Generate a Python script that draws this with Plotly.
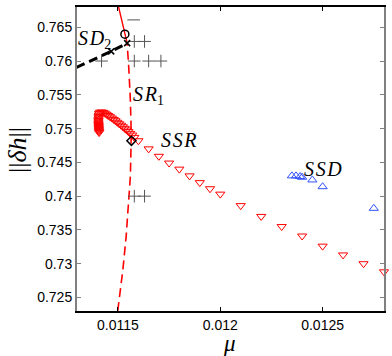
import plotly.graph_objects as go

# ---- data ----
# SSR branch: dense "hook" of solutions then spaced continuation
hook_mu = [0.011408, 0.011408, 0.011407, 0.011407, 0.011407, 0.011406, 0.011406, 0.011406,
           0.011405, 0.011405, 0.011405, 0.011405, 0.011405, 0.011406, 0.011406, 0.011407,
           0.011408, 0.011413, 0.011420, 0.011428, 0.011436, 0.011444, 0.011452,
           0.011461, 0.011470, 0.011479, 0.011488, 0.011497, 0.011506, 0.011515, 0.011524,
           0.011533, 0.011542, 0.011551, 0.011560, 0.011570, 0.011580]
hook_dh = [0.74940, 0.74955, 0.74970, 0.74985, 0.75000, 0.75015, 0.75030, 0.75045,
           0.75060, 0.75080, 0.75100, 0.75120, 0.75140, 0.75160, 0.75180, 0.75200,
           0.75226, 0.75242, 0.75246, 0.75240, 0.75228, 0.75212, 0.75194,
           0.75176, 0.75156, 0.75136, 0.75116, 0.75094, 0.75072, 0.75050, 0.75027,
           0.75004, 0.74980, 0.74956, 0.74930, 0.74904, 0.74870]

ssr_mu = [0.0116, 0.01165, 0.0117, 0.01175, 0.0118, 0.01185, 0.0119, 0.01195, 0.0120,
          0.0121, 0.0122, 0.0123, 0.0124, 0.0125, 0.0126, 0.0127, 0.0128]
ssr_dh = [0.7482, 0.7470, 0.7459, 0.7449, 0.7440, 0.7430, 0.7420, 0.7411, 0.7403,
          0.7386, 0.7370, 0.7355, 0.7341, 0.7326, 0.7313, 0.7300, 0.7288]

ssd_mu = [0.01235, 0.01237, 0.01239, 0.01240, 0.01245, 0.01250, 0.01275]
ssd_dh = [0.7430, 0.7430, 0.7429, 0.7428, 0.7424, 0.7414, 0.7382]

# SR1 curve (dashed part, then solid part)
sr1_dash_mu = [0.011499, 0.011524, 0.011540, 0.011553, 0.011561, 0.011565, 0.011561, 0.011553, 0.011545]
sr1_dash_dh = [0.7230, 0.72907, 0.73397, 0.73888, 0.74304, 0.74918, 0.75407, 0.75897, 0.76265]
sr1_solid_mu = [0.011545, 0.011534, 0.011503, 0.011500]
sr1_solid_dh = [0.76265, 0.76397, 0.76804, 0.7690]

# SD2 curve (thick black dashed)
sd2_mu = [0.011297, 0.011467, 0.011545]
sd2_dh = [0.75905, 0.76143, 0.76265]

# special points
circle_mu, circle_dh = [0.011534], [0.76397]
cross_mu, cross_dh = [0.011545, 0.011467], [0.76265, 0.76143]
diamond_mu, diamond_dh = [0.011566], [0.74819]

# plus markers
plus_mu = [0.01158, 0.01163, 0.01158, 0.01165, 0.01171, 0.01142, 0.01158, 0.01163]
plus_dh = [0.7629, 0.7629, 0.7600, 0.7600, 0.7600, 0.7600, 0.7400, 0.7400]
dash_mu, dash_dh = [0.011577], [0.76609]

x_ticks = [0.0115, 0.012, 0.0125]
x_tick_labels = ["0.0115", "0.012", "0.0125"]
y_ticks = [0.725, 0.73, 0.735, 0.74, 0.745, 0.75, 0.755, 0.76, 0.765]
y_tick_labels = ["0.725", "0.73", "0.735", "0.74", "0.745", "0.75", "0.755", "0.76", "0.765"]

RED = "#ff0000"
BLUE = "#3050ff"
GREY = "#555555"

fig = go.Figure()
fig.add_trace(go.Scatter(x=sr1_dash_mu, y=sr1_dash_dh, mode="lines",
                         line=dict(color=RED, width=1.6, dash="9px,5px")))
fig.add_trace(go.Scatter(x=sr1_solid_mu, y=sr1_solid_dh, mode="lines",
                         line=dict(color=RED, width=1.4)))
fig.add_trace(go.Scatter(x=sd2_mu, y=sd2_dh, mode="lines",
                         line=dict(color="black", width=3, dash="9px,5px")))
fig.add_trace(go.Scatter(x=hook_mu, y=hook_dh, mode="markers",
                         marker=dict(symbol="triangle-down-open", size=8, color=RED,
                                     line=dict(width=1, color=RED))))
fig.add_trace(go.Scatter(x=ssr_mu, y=ssr_dh, mode="markers", cliponaxis=False,
                         marker=dict(symbol="triangle-down-open", size=8, color=RED,
                                     line=dict(width=1, color=RED))))
fig.add_trace(go.Scatter(x=ssd_mu, y=ssd_dh, mode="markers",
                         marker=dict(symbol="triangle-up-open", size=8, color=BLUE,
                                     line=dict(width=1, color=BLUE))))
fig.add_trace(go.Scatter(x=plus_mu, y=plus_dh, mode="markers",
                         marker=dict(symbol="cross-thin-open", size=9, color=GREY,
                                     line=dict(width=1, color=GREY))))
fig.add_trace(go.Scatter(x=dash_mu, y=dash_dh, mode="markers",
                         marker=dict(symbol="line-ew-open", size=9, color=GREY,
                                     line=dict(width=1, color=GREY))))
fig.add_trace(go.Scatter(x=circle_mu, y=circle_dh, mode="markers",
                         marker=dict(symbol="circle-open", size=8, color="black",
                                     line=dict(width=1.5, color="black"))))
fig.add_trace(go.Scatter(x=cross_mu, y=cross_dh, mode="markers",
                         marker=dict(symbol="x-thin-open", size=6, color="black",
                                     line=dict(width=1.5, color="black"))))
fig.add_trace(go.Scatter(x=diamond_mu, y=diamond_dh, mode="markers",
                         marker=dict(symbol="diamond-open", size=7, color="black",
                                     line=dict(width=1.5, color="black"))))

serif = dict(family="Liberation Serif", size=20, color="black")
HS = "\u200a"  # hair space between math-italic letters
labels = [
    (0.011301, 0.76312, f"<i>S{HS}D</i><sub>2</sub>"),
    (0.011571, 0.75496, f"<i>S{HS}R</i><sub>1</sub>"),
    (0.011705, 0.74826, f"<i>S{HS}S{HS}R</i>"),
    (0.012404, 0.74397, f"<i>S{HS}S{HS}D</i>"),
]
for x, y, t in labels:
    fig.add_annotation(x=x, y=y, text=t, showarrow=False, xanchor="left", yanchor="middle",
                       font=serif, borderpad=0)

fig.add_annotation(xref="paper", yref="paper", x=-0.194, y=0.531, xanchor="center", yanchor="middle",
                   text="||<i>δh</i>||", showarrow=False, textangle=-90,
                   font=dict(family="Liberation Serif", size=26, color="black"))
fig.add_annotation(xref="paper", yref="paper", x=0.498, y=-0.108, xanchor="center", yanchor="middle",
                   text="<i>μ</i>", showarrow=False,
                   font=dict(family="Liberation Serif", size=23, color="black"))

fig.update_layout(
    width=392, height=356,
    margin=dict(l=77, r=8, t=5, b=45),
    paper_bgcolor="white", plot_bgcolor="white",
    showlegend=False,
    font=dict(family="Liberation Sans", size=14, color="black"),
)
fig.update_xaxes(range=[0.0113, 0.0128], tickvals=x_ticks, ticktext=x_tick_labels,
                 showgrid=False, zeroline=False, showline=True, mirror="ticks",
                 linecolor="black", linewidth=1.5, ticks="inside", ticklen=4,
                 tickcolor="black", tickfont=dict(size=14))
fig.update_yaxes(range=[0.723, 0.768], tickvals=y_ticks, ticktext=y_tick_labels,
                 showgrid=False, zeroline=False, showline=True, mirror="ticks",
                 linecolor="#808080", linewidth=2, ticks="inside", ticklen=4,
                 tickcolor="#808080", tickfont=dict(size=14))

fig.write_html("out.html", config={"displayModeBar": False},
               post_script="document.body.style.margin='0';")
